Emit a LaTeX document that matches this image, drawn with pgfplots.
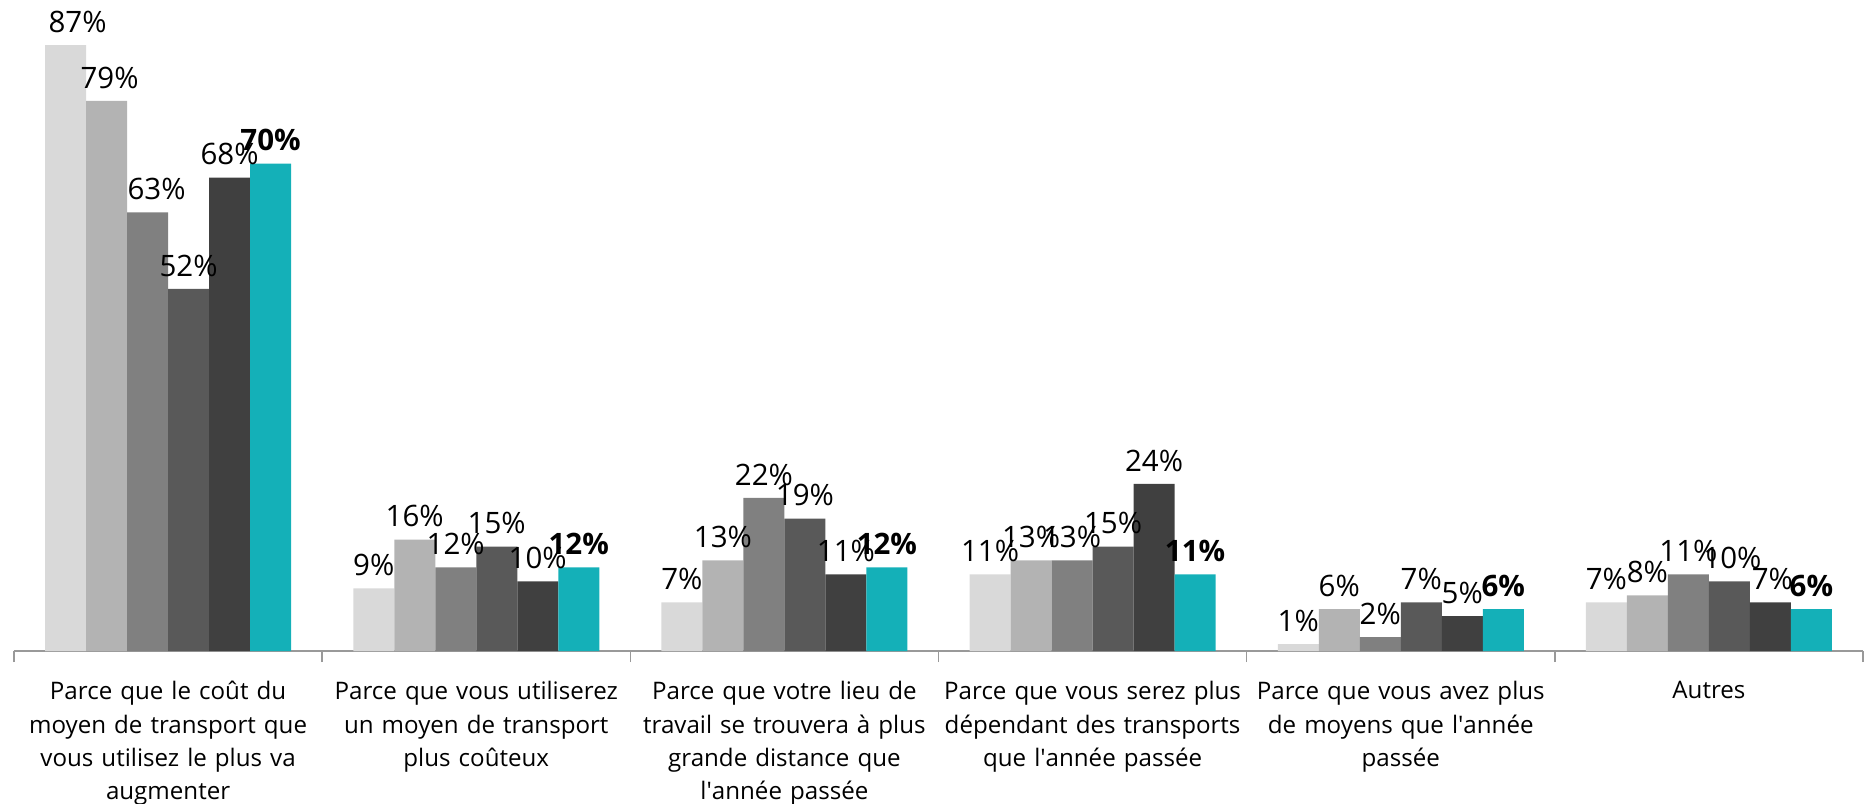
\documentclass[border=0pt]{standalone}
\usepackage{fontspec}
\setmainfont{Open Sans}
\usepackage{pgfplots}
\usepackage{pgfplotstable}
\pgfplotsset{compat=1.18}
\definecolor{s1}{HTML}{D9D9D9}
\definecolor{s2}{HTML}{B3B3B3}
\definecolor{s3}{HTML}{808080}
\definecolor{s4}{HTML}{595959}
\definecolor{s5}{HTML}{404040}
\definecolor{s6}{HTML}{14B0B8}
\pgfplotstableread{
x y dx
0 87 4.8
1 9 0
2 7 0
3 11 0
4 1 0
5 7 0
}\sA
\pgfplotstableread{
x y dx
0 79 1.2
1 16 0
2 13 0
3 13 0
4 6 0
5 8 0
}\sB
\pgfplotstableread{
x y dx
0 63 3.6
1 12 0
2 22 0
3 13 0
4 2 0
5 11 0
}\sC
\pgfplotstableread{
x y dx
0 52 0
1 15 0
2 19 0
3 15 0
4 7 0
5 10 1.2
}\sD
\pgfplotstableread{
x y dx
0 68 0
1 10 0
2 11 0
3 24 0
4 5 0
5 7 0.8
}\sE
\pgfplotstableread{
x y dx
0 70 0
1 12 0
2 12 0
3 11 0
4 6 0
5 6 0
}\sF
\begin{document}
\begin{tikzpicture}
\useasboundingbox (0,0) rectangle (749.2pt,321.2pt);
\begin{axis}[
  at={(5.6pt,60.8pt)}, anchor=south west,
  scale only axis, width=739.6pt, height=260.4pt,
  ymin=0, ymax=93.5, xmin=-0.5, xmax=5.5,
  axis y line=none, axis x line*=bottom,
  axis line style={draw=black!40, line width=0.6pt},
  ybar=0pt, bar width=16.4pt,
  xtick={0,...,5},
  xticklabels={
    {Parce que le coût du\\moyen de transport que\\vous utilisez le plus va\\augmenter},
    {Parce que vous utiliserez\\un moyen de transport\\plus coûteux},
    {Parce que votre lieu de\\travail se trouvera à plus\\grande distance que\\l\textquotesingle année passée},
    {Parce que vous serez plus\\dépendant des transports\\que l\textquotesingle année passée},
    {Parce que vous avez plus\\de moyens que l\textquotesingle année\\passée},
    {Autres}},
  major tick length=0pt,
  minor xtick={-0.5,0.5,...,5.5},
  minor tick length=4.4pt,
  xtick align=outside,
  minor x tick style={draw=black!40, line width=0.6pt},
  xticklabel style={text width=125pt, align=center, inner sep=0pt, anchor=north, yshift=-12pt,
    font=\fontsize{9.65}{13.3}\selectfont},
  clip=false,
  /pgf/number format/assume math mode=true,
  visualization depends on={\thisrow{dx} \as \dx},
  nodes near coords={\pgfmathprintnumber{\pgfplotspointmeta}\%},
  every node near coord/.append style={font=\fontsize{11.8}{13}\selectfont, inner sep=0pt, anchor=south, yshift=4.8pt, xshift=\dx pt, text=black},
]
\addplot[fill=s1, draw=none] table[x=x, y=y] {\sA};
\addplot[fill=s2, draw=none] table[x=x, y=y] {\sB};
\addplot[fill=s3, draw=none] table[x=x, y=y] {\sC};
\addplot[fill=s4, draw=none] table[x=x, y=y] {\sD};
\addplot[fill=s5, draw=none] table[x=x, y=y] {\sE};
\addplot[fill=s6, draw=none, every node near coord/.append style={font=\fontsize{11.8}{13}\selectfont\bfseries}] table[x=x, y=y] {\sF};
\end{axis}
\end{tikzpicture}
\end{document}
